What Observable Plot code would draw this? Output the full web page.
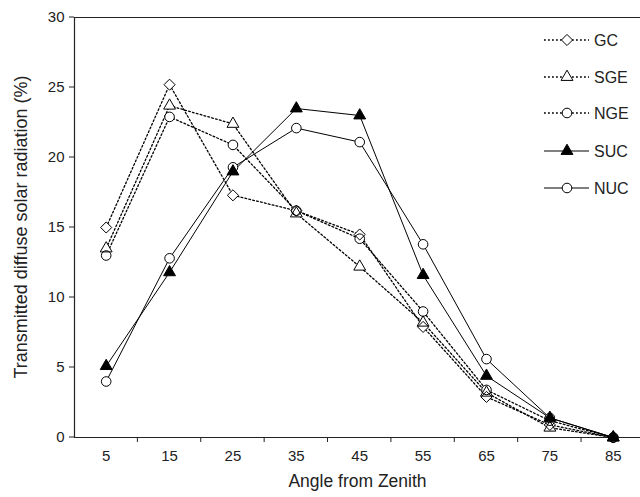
<!DOCTYPE html>
<html><head><meta charset="utf-8">
<script src="https://cdn.jsdelivr.net/npm/d3@7"></script>
<script src="https://cdn.jsdelivr.net/npm/@observablehq/plot@0.6"></script>
<style>
body{margin:0;background:#fff;font-family:"Liberation Sans",Arial,sans-serif;}
#wrap{position:relative;width:640px;height:497px;}
</style></head><body><div id="wrap"></div>
<script>
// ---- data ----
const angles = [5, 15, 25, 35, 45, 55, 65, 75, 85];
const GC  = [15.0, 25.2, 17.3, 16.2, 14.5, 7.9, 2.9, 0.9, 0];
const SGE = [13.5, 23.7, 22.4, 16.0, 12.2, 8.2, 3.2, 0.7, 0];
const NGE = [13.0, 22.9, 20.9, 16.2, 14.2, 9.0, 3.4, 1.2, 0];
const SUC = [5.1, 11.8, 19.0, 23.5, 23.0, 11.6, 4.4, 1.4, 0];
const NUC = [4.0, 12.8, 19.3, 22.1, 21.1, 13.8, 5.6, 1.4, 0];
const seriesNames = ["GC", "SGE", "NGE", "SUC", "NUC"];
const seriesValues = [GC, SGE, NGE, SUC, NUC];
const yTicks = [0, 5, 10, 15, 20, 25, 30];
const xTickMarks = [10, 20, 30, 40, 50, 60, 70, 80];
const yLabel = "Transmitted diffuse solar radiation (%)";
const xLabel = "Angle from Zenith";

// ---- styles ----
const FONT = "'Liberation Sans', Arial, sans-serif";
const style = {
  GC:  {symbol: "diamond2", r: 5,   fill: "none",  dash: "1.8,2.2", sw: 1.3},
  SGE: {symbol: "triangle", r: 4.4, fill: "none",  dash: "1.8,2.2", sw: 1.3},
  NGE: {symbol: "circle",   r: 4.8, fill: "none",  dash: "1.8,2.2", sw: 1.3},
  SUC: {symbol: "triangle", r: 4.4, fill: "black", dash: null, sw: 1},
  NUC: {symbol: "circle",   r: 4.8, fill: "none",  dash: null, sw: 1}
};

const rows = [];
seriesNames.forEach((s, i) => angles.forEach((a, j) => rows.push({series: s, angle: a, value: seriesValues[i][j]})));

const marks = [];
seriesNames.forEach(s => {
  marks.push(Plot.line(rows.filter(d => d.series === s), {
    x: "angle", y: "value", stroke: "black", strokeWidth: style[s].sw,
    strokeDasharray: style[s].dash || undefined
  }));
});
seriesNames.forEach(s => {
  marks.push(Plot.dot(rows.filter(d => d.series === s), {
    x: "angle", y: "value", symbol: style[s].symbol, r: style[s].r, fill: "white", stroke: "none"
  }));
});
seriesNames.forEach(s => {
  marks.push(Plot.dot(rows.filter(d => d.series === s), {
    x: "angle", y: "value", symbol: style[s].symbol, r: style[s].r,
    fill: style[s].fill, stroke: "black", strokeWidth: 1
  }));
});

const chart = Plot.plot({
  width: 640, height: 497,
  marginLeft: 74, marginRight: 0, marginTop: 17, marginBottom: 60,
  style: {fontFamily: FONT, fontSize: "15px", color: "#222", background: "white"},
  x: {type: "linear", domain: [0, 89.3], axis: null},
  y: {type: "linear", domain: [0, 30], axis: null},
  marks: [
    Plot.ruleY([30], {stroke: "#222", strokeWidth: 1.2}),
    Plot.ruleY([0], {stroke: "#222", strokeWidth: 1.2}),
    Plot.ruleX([0], {stroke: "#222", strokeWidth: 1.2}),
    Plot.text(yTicks, {y: d => d, x: () => 0, text: d => String(d), textAnchor: "end", dx: -10, fontSize: 15}),
    Plot.text(angles, {x: d => d, y: () => 0, text: d => String(d), dy: 19, fontSize: 15}),
    Plot.text([xLabel], {frameAnchor: "bottom", dy: 49, fontSize: 17.5}),
    ...marks
  ]
});
document.getElementById("wrap").appendChild(chart);

const svg = d3.select(chart);
const xs = chart.scale("x"), ys = chart.scale("y");
const g = svg.append("g").attr("stroke", "#222");
yTicks.forEach(t => g.append("line").attr("x1", xs.apply(0) - 5).attr("x2", xs.apply(0)).attr("y1", ys.apply(t)).attr("y2", ys.apply(t)));
xTickMarks.forEach(t => g.append("line").attr("x1", xs.apply(t)).attr("x2", xs.apply(t)).attr("y1", ys.apply(0)).attr("y2", ys.apply(0) + 5));

// y axis label
svg.append("text").attr("transform", `translate(21,${(ys.apply(0) + ys.apply(30)) / 2}) rotate(-90)`)
  .attr("text-anchor", "middle").attr("dy", "0.35em").attr("font-size", 18).attr("fill", "#222")
  .attr("font-family", FONT).text(yLabel);

// legend
const lg = svg.append("g").attr("font-family", FONT).attr("font-size", 16).attr("text-anchor", "start");
const symMap = {diamond2: d3.symbolDiamond2, triangle: d3.symbolTriangle, circle: d3.symbolCircle};
const rowY = [40, 77, 113, 151, 188];
seriesNames.forEach((s, i) => {
  const row = lg.append("g").attr("transform", `translate(0,${rowY[i]})`);
  const st = style[s];
  row.append("line").attr("x1", 544).attr("x2", 589).attr("stroke", "black").attr("stroke-width", st.sw)
     .attr("stroke-dasharray", st.dash || null);
  row.append("path").attr("transform", "translate(567,0)").attr("d", d3.symbol(symMap[st.symbol], Math.PI * st.r * st.r)())
     .attr("fill", st.fill === "none" ? "white" : st.fill).attr("stroke", "black");
  row.append("text").attr("x", 594).attr("dy", "0.35em").attr("fill", "#222").attr("text-anchor", "start").text(s);
});
</script></body></html>
